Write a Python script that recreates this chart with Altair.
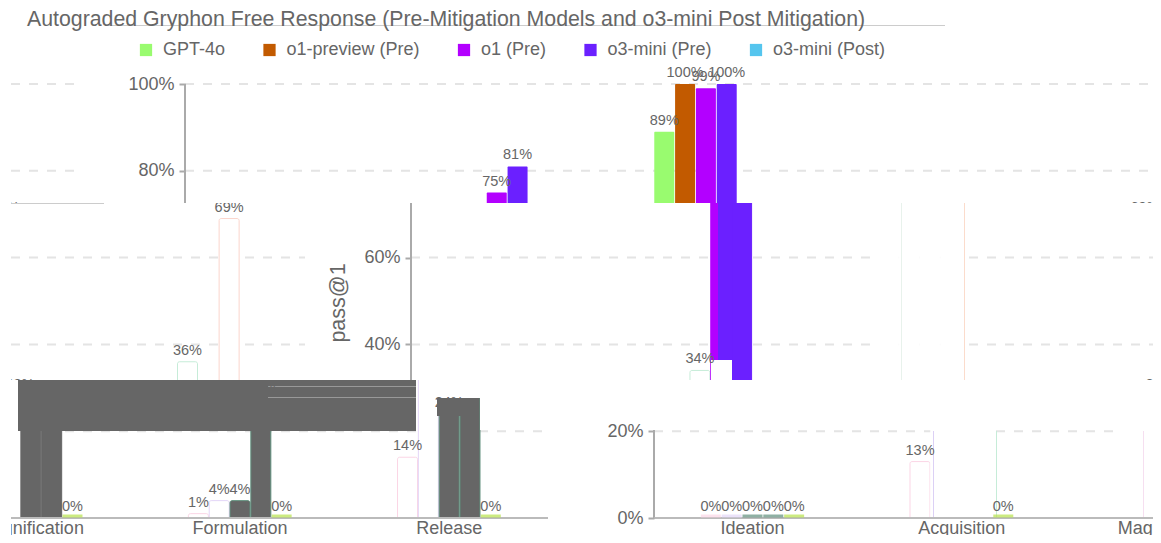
import altair as alt
import pandas as pd

# ---- values
categories = ["Ideation", "Acquisition", "Magnification", "Formulation", "Release"]
series = ["GPT-4o", "o1-preview (Pre)", "o1 (Pre)", "o3-mini (Pre)", "o3-mini (Post)"]
gpt4o = [0, 13, 89, 1, 14]
o1_preview = [0, 34, 100, 4, 36]
o1_pre = [0, 75, 99, 4, 24]
o3_mini_pre = [0, 81, 100, 28, 69]
o3_mini_post = [0, 0, 0, 0, 0]
y_ticks = [0, 20, 40, 60, 80, 100]
title = "Autograded Gryphon Free Response (Pre-Mitigation Models and o3-mini Post Mitigation)"
y_title = "pass@1"

# ---- styling and layout
FONT = "Liberation Sans"
GREY = "#666666"
colors = ["#99fb6f", "#c25a00", "#b300ff", "#6b20ff", "#55c5ee"]
PAGE_LEFT, PAGE_TOP, PAGE_RIGHT = 11, 8, 1153
WRAP = 1150           # the strip width after which the drawing comes back at the left edge
STEP = 211            # px per category
BAR = 21              # px per bar
BAR_W = 20
FIRST = 100           # first category centre, from the axis
PLOT_W = 1044
PX_PER_PCT = 4.34
Y0 = 518              # page y of 0%
W = PAGE_RIGHT - PAGE_LEFT


def val(y):
    return (Y0 - y) / PX_PER_PCT


rows = []
for c, cat in enumerate(categories):
    for s, vals in enumerate([gpt4o, o1_preview, o1_pre, o3_mini_pre, o3_mini_post]):
        rows.append(dict(cat=cat, c=c, s=s, series=series[s], value=vals[c], label=f"{vals[c]}%"))
table = pd.DataFrame(rows)


def strip(top, bottom, axis_x, ticks, fill_fn=None, stroke_fn=None, rects=(), extras=(), legend=False, cat_labels=False):
    h = bottom - top
    df = pd.concat([table.assign(pos=table.c + (table.s - 2) * BAR / STEP + k * WRAP / STEP) for k in (0, -1)])
    if fill_fn:
        df["fill"] = [fill_fn(r.cat, r.s) for r in df.itertuples()]
        df["line"] = [stroke_fn(r.cat, r.s) for r in df.itertuples()]
    x_scale = alt.Scale(
        domain=[(PAGE_LEFT - axis_x - FIRST) / STEP, (PAGE_RIGHT - axis_x - FIRST) / STEP],
        nice=False, zero=False)
    y_scale = alt.Scale(domain=[val(bottom), val(top)], nice=False, zero=False)
    y_enc = alt.Y("value:Q", scale=y_scale, title=None, axis=alt.Axis(
        values=ticks, format=".0f", labelExpr="datum.label + '%'", offset=-(axis_x - PAGE_LEFT),
        domain=False, grid=False, ticks=True, tickSize=6, tickWidth=2, tickColor="#aaaaaa", zindex=1,
        labelFontSize=18, labelColor=GREY, labelFont=FONT, labelPadding=5))
    x_enc = alt.X("pos:Q", scale=x_scale, axis=None)

    layers = []
    # gridlines: the part up to the page edge, then the part that wraps round
    tick_df = pd.DataFrame({"v": [t for t in y_ticks if val(bottom) <= t <= val(top) and t > 0]})
    end = axis_x + PLOT_W
    segs = [(axis_x - PAGE_LEFT, min(end, PAGE_RIGHT) - PAGE_LEFT)]
    if end > PAGE_RIGHT:
        segs.append((0, end - WRAP - PAGE_LEFT))
    if len(tick_df):
        for a, b in segs:
            layers.append(alt.Chart(tick_df).mark_rule(stroke="#e4e4e4", strokeWidth=2, strokeDash=[9, 9], clip=True).encode(
                y=alt.Y("v:Q", scale=y_scale), x=alt.value(a), x2=alt.value(b)))

    bars = alt.Chart(df)
    if legend:
        bar = bars.mark_bar(size=BAR_W, clip=True, cornerRadiusTopLeft=1, cornerRadiusTopRight=1).encode(
            x=x_enc, y=y_enc, y2=alt.Y2(datum=0),
            color=alt.Color("series:N", sort=series, scale=alt.Scale(domain=series, range=colors), legend=alt.Legend(
                title=None, orient="none", legendX=126, legendY=33, direction="horizontal", columns=5,
                symbolType="square", symbolSize=150, symbolStrokeWidth=0, labelFontSize=18, labelFont=FONT,
                labelColor=GREY, columnPadding=34.5, labelOffset=8)))
    else:
        bar = bars.mark_bar(size=BAR_W, clip=True, strokeWidth=1, cornerRadiusTopLeft=2, cornerRadiusTopRight=2).encode(
            x=x_enc, y=y_enc, y2=alt.Y2(datum=0),
            fill=alt.Fill("fill:N", scale=None), stroke=alt.Stroke("line:N", scale=None))
    layers.append(bar)

    # vertical axis line
    layers.append(alt.Chart(pd.DataFrame({"a": [100], "b": [0]})).mark_rule(stroke="#aaaaaa", strokeWidth=2, clip=True).encode(
        x=alt.value(axis_x - PAGE_LEFT), y=alt.Y("a:Q", scale=y_scale), y2="b:Q"))

    for (x1, y1, x2, y2, col) in rects:
        layers.append(alt.Chart(pd.DataFrame({"k": [0]})).mark_rect(color=col, clip=True).encode(
            x=alt.value(x1 - PAGE_LEFT), x2=alt.value(x2 - PAGE_LEFT), y=alt.value(y1 - top), y2=alt.value(y2 - top)))

    if cat_labels:
        for a, b in segs:
            layers.append(alt.Chart(pd.DataFrame({"v": [0]})).mark_rule(stroke="#bbbbbb", strokeWidth=2, clip=True).encode(
                y=alt.Y("v:Q", scale=y_scale), x=alt.value(a), x2=alt.value(b)))
        # bars of 0% still show as a thin sliver on the baseline
        layers.append(alt.Chart(df[df["value"] == 0]).mark_tick(orient="horizontal", size=BAR_W, thickness=3, yOffset=-2, clip=True).encode(
            x=x_enc, y=alt.Y("value:Q", scale=y_scale), color=alt.Color("line:N", scale=None)))

    layers.append(alt.Chart(df).mark_text(fontSize=14.5, font=FONT, color=GREY, dy=-11, clip=True).encode(
        x=x_enc, y=alt.Y("value:Q", scale=y_scale), text="label:N"))

    if cat_labels:
        cat_df = pd.concat([pd.DataFrame({"pos": [i + k * WRAP / STEP for i in range(5)], "cat": categories}) for k in (0, -1)])
        layers.append(alt.Chart(cat_df).mark_text(fontSize=18, font=FONT, color=GREY, clip=True).encode(
            x=x_enc, y=alt.value(529 - top), text="cat:N"))

    layers.extend(extras)
    return alt.layer(*layers).properties(width=W, height=h)


def one_text(text, x, y, **kw):
    return alt.Chart(pd.DataFrame({"t": [text]})).mark_text(font=FONT, **kw).encode(
        x=alt.value(x), y=alt.value(y), text="t:N")


top_extras = [
    one_text(title, 27 - PAGE_LEFT, 20 - PAGE_TOP, fontSize=21.3, color=GREY, align="left"),
]

WHITE_FILL = "#ffffff"


def mid_fill(cat, s):
    return colors[s] if cat == "Acquisition" and s in (2, 3) else WHITE_FILL


def mid_line(cat, s):
    if cat == "Acquisition" and s in (2, 3):
        return colors[s]
    if cat == "Magnification":
        return "#ffffff"
    return {0: "#ffffff", 1: "#c6ecd8", 2: "#ffffff", 3: "#fbd5cc", 4: "#ffffff"}[s]


def bot_fill(cat, s):
    if cat == "Acquisition" and s in (2, 3):
        return WHITE_FILL
    return {0: WHITE_FILL, 1: WHITE_FILL, 2: GREY, 3: GREY, 4: "#b7e34a"}[s]


def bot_line(cat, s):
    if cat == "Acquisition" and s in (1, 2, 3):
        return "#ffffff"
    if cat == "Magnification" and s < 4:
        return "#ffffff" if s < 2 else GREY
    return {0: "#fbd5e5", 1: "#e3d5f7", 2: "#5f8f7c", 3: "#5f8f7c", 4: "#b7e34a"}[s]


top_panel = strip(PAGE_TOP, 203, 185, [80, 100], legend=True, extras=top_extras,
                  rects=[(105, 25, 945, 26, "#cccccc")])
mid_panel = strip(203, 380, 411, [40, 60], fill_fn=mid_fill, stroke_fn=mid_line,
                  rects=[(711, 360, 732, 380, "#ffffff"), (718, 203, 732, 360, "#6b20ff"),
                         (11, 203, 104, 204, "#cccccc"),
                         (901, 203, 902, 380, "#e8f2ec"), (964, 203, 965, 380, "#fbdccc")],
                  extras=[one_text(y_title, 339 - PAGE_LEFT, 303 - 203, fontSize=21.5, color=GREY, angle=270)])
bot_panel = strip(380, 535, 654, [0, 20], fill_fn=bot_fill, stroke_fn=bot_line, cat_labels=True,
                  rects=[(18, 380, 416, 431, GREY), (437, 380, 480, 398, "#ffffff"), (437, 398, 479, 416, GREY),
                         (480, 380, 1153, 430, "#ffffff"), (268, 386, 416, 387, "#999999"), (268, 397, 416, 398, "#999999"),
                         (933, 431, 934, 518, "#dcd0f5"), (996, 431, 997, 518, "#c6ecd8"), (1143, 431, 1144, 518, "#f6dff0")])

chart = alt.vconcat(top_panel, mid_panel, bot_panel, spacing=0, bounds="flush").resolve_scale(
    color="independent", y="independent", x="independent").resolve_legend(color="independent").properties(
    padding={"left": 3, "top": 0, "right": 0, "bottom": 0}).configure_view(stroke=None)

chart.save("out.html", embed_options={"renderer": "svg", "actions": False})
